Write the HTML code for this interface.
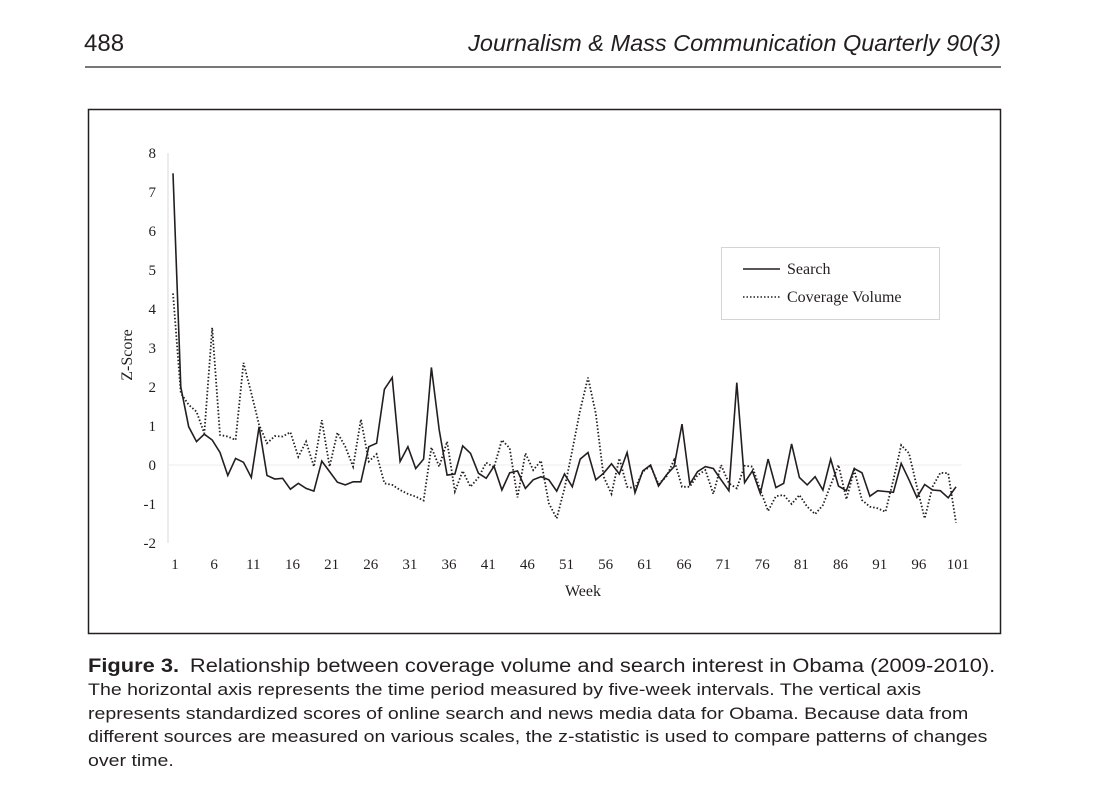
<!DOCTYPE html>
<html><head><meta charset="utf-8">
<style>
html,body{margin:0;padding:0;background:#fff;width:1100px;height:798px;overflow:hidden}
body{position:relative;font-family:"Liberation Sans",sans-serif;color:#231f20}
.pn{position:absolute;left:84px;top:30px;font-size:24px}
.jt{position:absolute;right:99px;top:30px;font-size:23.5px;font-style:italic}
.hr{position:absolute;left:85px;top:66px;width:916px;height:2px;background:#777}
.cap{position:absolute;left:88px;top:655px;width:900px;font-size:17px;line-height:23.4px;white-space:nowrap;transform:scaleX(1.15);transform-origin:0 0}
</style></head><body>
<div class="pn">488</div>
<div class="jt">Journalism &amp; Mass Communication Quarterly 90(3)</div>
<div class="hr"></div>
<svg id="chart" width="1100" height="798" style="position:absolute;left:0;top:0" xmlns="http://www.w3.org/2000/svg"></svg>
<div class="cap"><b style="font-size:19px">Figure 3.</b>&nbsp; <span style="font-size:19px">Relationship between coverage volume and search interest in Obama (2009-2010).</span><br>The horizontal axis represents the time period measured by five-week intervals. The vertical axis<br>represents standardized scores of online search and news media data for Obama. Because data from<br>different sources are measured on various scales, the z-statistic is used to compare patterns of changes<br>over time.</div>
<script>
const yTicks=[8,7,6,5,4,3,2,1,0,-1,-2];
const xTicks=[1,6,11,16,21,26,31,36,41,46,51,56,61,66,71,76,81,86,91,96,101];
const search=[7.48,2.0,0.98,0.6,0.79,0.64,0.32,-0.27,0.17,0.07,-0.32,0.98,-0.27,-0.36,-0.34,-0.62,-0.47,-0.6,-0.67,0.1,-0.17,-0.44,-0.51,-0.43,-0.43,0.47,0.56,1.94,2.24,0.09,0.47,-0.09,0.15,2.5,0.9,-0.26,-0.23,0.49,0.3,-0.21,-0.34,-0.03,-0.64,-0.2,-0.15,-0.6,-0.38,-0.3,-0.38,-0.67,-0.23,-0.56,0.15,0.32,-0.38,-0.21,0.03,-0.23,0.32,-0.71,-0.15,0,-0.54,-0.26,-0.04,1.05,-0.49,-0.17,-0.04,-0.09,-0.38,-0.66,2.11,-0.45,-0.15,-0.73,0.15,-0.58,-0.47,0.54,-0.32,-0.51,-0.3,-0.64,0.15,-0.54,-0.66,-0.09,-0.2,-0.8,-0.66,-0.68,-0.7,0.04,-0.38,-0.83,-0.5,-0.64,-0.66,-0.84,-0.56];
const coverage=[4.4,1.84,1.54,1.37,0.81,3.52,0.77,0.73,0.64,2.62,1.84,1.03,0.56,0.74,0.73,0.84,0.21,0.6,-0.04,1.15,-0.04,0.83,0.47,-0.04,1.17,0.09,0.28,-0.47,-0.51,-0.64,-0.74,-0.81,-0.91,0.45,-0.04,0.6,-0.68,-0.15,-0.56,-0.32,0.06,-0.06,0.64,0.43,-0.83,0.3,-0.13,0.11,-0.98,-1.37,-0.6,0.38,1.41,2.24,1.32,-0.3,-0.74,0.17,-0.56,-0.6,-0.17,-0.03,-0.49,-0.3,0.13,-0.56,-0.56,-0.26,-0.13,-0.74,0,-0.47,-0.6,-0.02,-0.04,-0.64,-1.18,-0.8,-0.77,-1.0,-0.77,-1.07,-1.26,-1.03,-0.51,0,-0.88,-0.13,-0.9,-1.07,-1.11,-1.2,-0.38,0.51,0.3,-0.56,-1.37,-0.56,-0.2,-0.21,-1.48];
const NS="http://www.w3.org/2000/svg";
const svg=document.getElementById('chart');
function X(w){return 173+7.83*(w-1);}
function Y(v){return 465-39*v;}
function mk(t,a){const e=document.createElementNS(NS,t);for(const k in a)e.setAttribute(k,a[k]);svg.appendChild(e);return e;}
let e;
e=mk('rect',{x:88.5,y:109.5,width:912,height:524,fill:'none',stroke:'#231f20','stroke-width':1.5});


e=mk('line',{x1:168,x2:168,y1:Y(8),y2:Y(-2),stroke:'#d9d9d9','stroke-width':1});


e=mk('line',{x1:168,x2:962,y1:Y(0),y2:Y(0),stroke:'#eeeeee','stroke-width':1});


yTicks.forEach(v=>{
  const t=mk('text',{x:156,y:Y(v)+5,'text-anchor':'end','font-family':'Liberation Serif, serif','font-size':15,fill:'#231f20'});
  t.textContent=String(v);
  
  
});
xTicks.forEach(w=>{
  const t=mk('text',{x:X(w)+2,y:569,'text-anchor':'middle','font-family':'Liberation Serif, serif','font-size':15,fill:'#231f20'});
  t.textContent=String(w);
  
  
});
e=mk('text',{x:583,y:596,'text-anchor':'middle','font-family':'Liberation Serif, serif','font-size':16,fill:'#231f20'});
e.textContent='Week';


e=mk('text',{x:132,y:355,'text-anchor':'middle','font-family':'Liberation Serif, serif','font-size':16,fill:'#231f20',transform:'rotate(-90 132 355)'});
e.textContent='Z-Score';


function pts(arr){return arr.map((v,i)=>X(i+1).toFixed(1)+','+Y(v).toFixed(1)).join(' ');}
e=mk('polyline',{points:pts(coverage),fill:'none',stroke:'#231f20','stroke-width':1.8,'stroke-dasharray':'1.5 2'});


e=mk('polyline',{points:pts(search),fill:'none',stroke:'#231f20','stroke-width':1.6,'stroke-linejoin':'miter'});


e=mk('rect',{x:721.5,y:247.5,width:218,height:72,fill:'#fff',stroke:'#d4d4d4','stroke-width':1});


e=mk('line',{x1:743,x2:780,y1:269,y2:269,stroke:'#231f20','stroke-width':1.6});


e=mk('text',{x:787,y:274,'font-family':'Liberation Serif, serif','font-size':16,fill:'#231f20'});
e.textContent='Search';


e=mk('line',{x1:743,x2:780,y1:297,y2:297,stroke:'#231f20','stroke-width':1.5,'stroke-dasharray':'1.5 2'});


e=mk('text',{x:787,y:302,'font-family':'Liberation Serif, serif','font-size':16,fill:'#231f20'});
e.textContent='Coverage Volume';


</script>
</body></html>
